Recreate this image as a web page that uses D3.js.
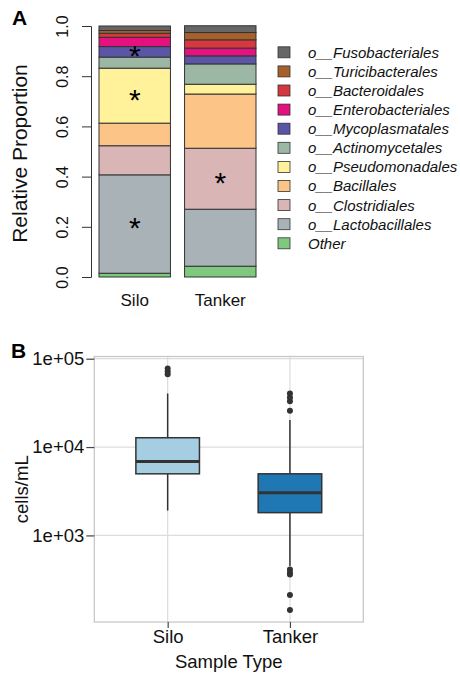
<!DOCTYPE html>
<html><head><meta charset="utf-8">
<script src="https://cdn.jsdelivr.net/npm/d3@7"></script>
<style>body{margin:0;background:#fff} svg{display:block;font-family:"Liberation Sans",Arial,Helvetica,sans-serif}</style>
</head><body><svg id="c" width="460" height="677"></svg>
<script>
// ---------- Panel A data ----------
const groups = ["Silo", "Tanker"];
const taxa = ["Other", "o__Lactobacillales", "o__Clostridiales", "o__Bacillales", "o__Pseudomonadales",
  "o__Actinomycetales", "o__Mycoplasmatales", "o__Enterobacteriales", "o__Bacteroidales",
  "o__Turicibacterales", "o__Fusobacteriales"];
const siloValues   = [0.015, 0.392, 0.116, 0.090, 0.219, 0.044, 0.042, 0.037, 0.016, 0.011, 0.018];
const tankerValues = [0.043, 0.227, 0.243, 0.216, 0.039, 0.081, 0.032, 0.031, 0.033, 0.029, 0.027];
const taxaColors = ["#7fc97f", "#a9b3b7", "#d9b5b5", "#fdc488", "#fff29a", "#9cb8a4", "#5b55a5",
  "#e4117f", "#d6383f", "#a6602c", "#666666"];
const significantSilo = ["o__Lactobacillales", "o__Pseudomonadales", "o__Mycoplasmatales"];
const significantTanker = ["o__Clostridiales"];
const propTicks = [0, 0.2, 0.4, 0.6, 0.8, 1.0];

// ---------- Panel B data ----------
const boxGroups = ["Silo", "Tanker"];
const boxQ1 = [4980, 1810];
const boxMedian = [6850, 3040];
const boxQ3 = [12750, 4980];
const whiskerLow = [1910, 450];
const whiskerHigh = [40400, 20300];
const siloOutliers = [77300, 71500, 66800];
const tankerOutliers = [40400, 36500, 32900, 25800, 412, 378, 362, 212, 143];
const logTicks = [1e3, 1e4, 1e5];
const logTickLabels = ["1e+03", "1e+04", "1e+05"];
const boxColors = ["#a6cee3", "#1f78b4"];

const svg = d3.select("#c");

// ================= Panel A =================
const valuesByGroup = {Silo: siloValues, Tanker: tankerValues};
const sigByGroup = {Silo: significantSilo, Tanker: significantTanker};
const xA = d3.scaleBand().domain(groups).range([99, 256]).paddingInner(0.165).paddingOuter(0);
const yA = d3.scaleLinear().domain([0, 1]).range([277, 26]);
const colorA = d3.scaleOrdinal().domain(taxa).range(taxaColors);

const segs = [];
groups.forEach(g => {
  let cum = 0;
  valuesByGroup[g].forEach((v, i) => {
    segs.push({group: g, taxon: taxa[i], y0: cum, y1: cum + v});
    cum += v;
  });
});

const gA = svg.append("g");
gA.selectAll("rect.seg").data(segs).join("rect")
  .attr("class", "seg")
  .attr("x", d => xA(d.group))
  .attr("width", xA.bandwidth())
  .attr("y", d => yA(d.y1))
  .attr("height", d => yA(d.y0) - yA(d.y1))
  .attr("fill", d => colorA(d.taxon))
  .attr("stroke", "#333")
  .attr("stroke-width", 1);

// asterisks
gA.selectAll("text.star").data(segs.filter(d => sigByGroup[d.group].includes(d.taxon))).join("text")
  .attr("class", "star")
  .attr("x", d => xA(d.group) + xA.bandwidth() / 2)
  .attr("y", d => yA((d.y0 + d.y1) / 2))
  .attr("dy", "0.48em")
  .attr("text-anchor", "middle")
  .attr("font-size", 30)
  .attr("fill", "#000")
  .text("*");

// y axis
const axA = gA.append("g").attr("transform", "translate(91,0)")
  .call(d3.axisLeft(yA).tickValues(propTicks).tickFormat(d3.format(".1f")).tickSize(9).tickSizeOuter(9));
axA.select(".domain").attr("stroke", "#333");
axA.selectAll(".tick line").attr("stroke", "#333");
axA.selectAll(".tick text")
  .attr("x", null).attr("dy", null)
  .attr("transform", "translate(-23,0) rotate(-90)")
  .attr("text-anchor", "middle")
  .attr("font-size", 16)
  .attr("font-family", "Liberation Sans, Arial, sans-serif")
  .attr("fill", "#111");

gA.append("text")
  .attr("transform", `translate(27,${(yA(0) + yA(1)) / 2 + 2}) rotate(-90)`)
  .attr("text-anchor", "middle")
  .attr("font-size", 21)
  .attr("fill", "#111")
  .text("Relative Proportion");

// x labels
gA.selectAll("text.xl").data(groups).join("text")
  .attr("class", "xl")
  .attr("x", d => xA(d) + xA.bandwidth() / 2)
  .attr("y", 306)
  .attr("text-anchor", "middle")
  .attr("font-size", 17)
  .attr("fill", "#111")
  .text(d => d);

gA.append("text").attr("x", 12).attr("y", 25).attr("font-size", 21).attr("font-weight", "bold").text("A");

// legend
const legendOrder = taxa.slice().reverse();
const legY = d3.scalePoint().domain(legendOrder).range([52.3, 243.3]);
const leg = gA.append("g");
leg.selectAll("rect").data(legendOrder).join("rect")
  .attr("x", 278).attr("width", 12)
  .attr("y", d => legY(d) - 5.5).attr("height", 11)
  .attr("fill", d => colorA(d))
  .attr("stroke", "#333").attr("stroke-width", 0.8);
leg.selectAll("text").data(legendOrder).join("text")
  .attr("x", 308)
  .attr("y", d => legY(d))
  .attr("dy", "0.36em")
  .attr("font-size", 15)
  .attr("font-style", "italic")
  .attr("fill", "#111")
  .text(d => d);

// ================= Panel B =================
const gB = svg.append("g");
const px0 = 94.3, px1 = 363.3, py0 = 356.5, py1 = 622;
const xB = d3.scaleLinear().domain([0.4, 2.6]).range([px0, px1]);
const yB = d3.scaleLog().domain([Math.pow(10, 2.02), Math.pow(10, 5.025)]).range([py1, py0]);
const gridColor = "#dcdcdc";

// grid
gB.selectAll("line.hg").data(logTicks).join("line")
  .attr("x1", px0).attr("x2", px1)
  .attr("y1", d => yB(d)).attr("y2", d => yB(d))
  .attr("stroke", gridColor).attr("stroke-width", 1.2);
gB.selectAll("line.vg").data(boxGroups).join("line")
  .attr("x1", (d, i) => xB(i + 1)).attr("x2", (d, i) => xB(i + 1))
  .attr("y1", py0).attr("y2", py1)
  .attr("stroke", gridColor).attr("stroke-width", 1.2);

// boxes
const bw = 0.26;
boxGroups.forEach((g, i) => {
  const cx = xB(i + 1);
  gB.append("line").attr("x1", cx).attr("x2", cx)
    .attr("y1", yB(whiskerHigh[i])).attr("y2", yB(boxQ3[i]))
    .attr("stroke", "#333").attr("stroke-width", 1.5);
  gB.append("line").attr("x1", cx).attr("x2", cx)
    .attr("y1", yB(boxQ1[i])).attr("y2", yB(whiskerLow[i]))
    .attr("stroke", "#333").attr("stroke-width", 1.5);
  gB.append("rect")
    .attr("x", xB(i + 1 - bw)).attr("width", xB(i + 1 + bw) - xB(i + 1 - bw))
    .attr("y", yB(boxQ3[i])).attr("height", yB(boxQ1[i]) - yB(boxQ3[i]))
    .attr("fill", boxColors[i]).attr("stroke", "#333").attr("stroke-width", 1.5);
  gB.append("line")
    .attr("x1", xB(i + 1 - bw)).attr("x2", xB(i + 1 + bw))
    .attr("y1", yB(boxMedian[i])).attr("y2", yB(boxMedian[i]))
    .attr("stroke", "#333").attr("stroke-width", 3);
});
const outliers = [siloOutliers, tankerOutliers];
outliers.forEach((arr, i) => {
  gB.selectAll(null).data(arr).join("circle")
    .attr("cx", xB(i + 1)).attr("cy", d => yB(d)).attr("r", 3)
    .attr("fill", "#333");
});

// border
gB.append("rect").attr("x", px0).attr("y", py0).attr("width", px1 - px0).attr("height", py1 - py0)
  .attr("fill", "none").attr("stroke", "#c8c8c8").attr("stroke-width", 1.3);

// y axis
const axB = gB.append("g").attr("transform", `translate(${px0},0)`)
  .call(d3.axisLeft(yB).tickValues(logTicks).tickFormat((d, i) => logTickLabels[i]).tickSize(8).tickPadding(2));
axB.select(".domain").remove();
axB.selectAll(".tick line").attr("stroke", "#444").attr("stroke-width", 1.2);
axB.selectAll(".tick text").attr("font-size", 18.5).attr("fill", "#111")
  .attr("font-family", "Liberation Sans, Arial, sans-serif");

// x axis
const axBx = gB.append("g").attr("transform", `translate(0,${py1})`)
  .call(d3.axisBottom(xB).tickValues([1, 2]).tickFormat((d, i) => boxGroups[i]).tickSize(6).tickPadding(2));
axBx.select(".domain").remove();
axBx.selectAll(".tick line").attr("stroke", "#444").attr("stroke-width", 1.2);
axBx.selectAll(".tick text").attr("font-size", 18.5).attr("fill", "#111")
  .attr("font-family", "Liberation Sans, Arial, sans-serif");

gB.append("text").attr("x", (px0 + px1) / 2).attr("y", 668).attr("text-anchor", "middle")
  .attr("font-size", 18.5).attr("fill", "#111").text("Sample Type");
gB.append("text")
  .attr("transform", `translate(28,${(py0 + py1) / 2}) rotate(-90)`)
  .attr("text-anchor", "middle").attr("font-size", 18.5).attr("fill", "#111").text("cells/mL");
gB.append("text").attr("x", 11).attr("y", 358).attr("font-size", 21).attr("font-weight", "bold").text("B");
</script></body></html>
